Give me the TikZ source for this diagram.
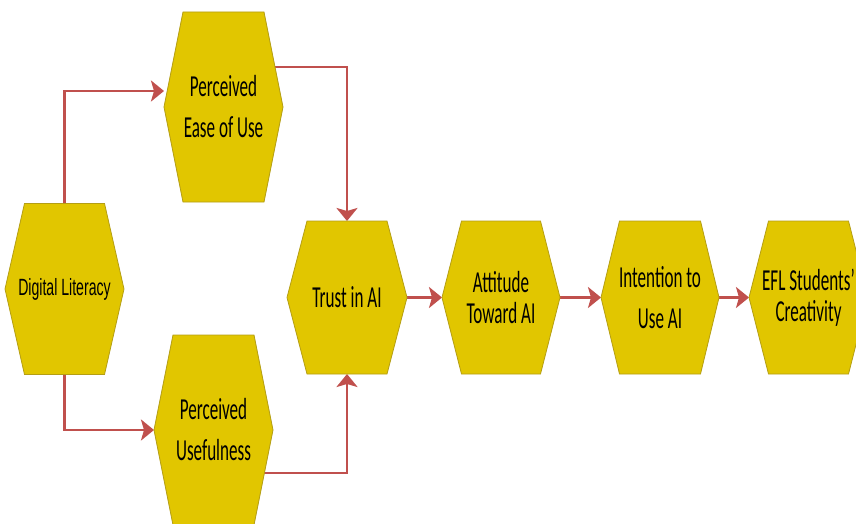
\documentclass[tikz,border=0pt]{standalone}
\usepackage{fontspec}
\setmainfont{Carlito}[FakeStretch=0.56]
\newfontfamily\narrowsans{Liberation Sans}[FakeStretch=0.6]
\usetikzlibrary{arrows.meta,backgrounds}

\definecolor{hexgold}{RGB}{225,198,0}
\definecolor{hexedge}{RGB}{180,158,20}
\definecolor{linkred}{RGB}{192,80,77}

\tikzset{
  hexbox/.style={inner sep=0pt, outer sep=0pt, align=center,
    font=\fontsize{30.5}{41}\selectfont},
  tightlines/.style={font=\fontsize{30.5}{31}\selectfont},
  hexfill/.style={fill=hexgold, draw=hexedge, line width=0.8pt, line join=miter},
  link/.style={draw=linkred, line width=2.6pt,
    -{Stealth[length=13pt,width=21pt,inset=3pt]}}
}

% hexagon outline round a node: #1 node name, #2 horizontal inset of the top/bottom edges
\newcommand\hexround[2]{%
  \path[hexfill] ([xshift=#2]#1.north west) -- ([xshift=-#2]#1.north east)
    -- (#1.east) -- ([xshift=-#2]#1.south east) -- ([xshift=#2]#1.south west)
    -- (#1.west) -- cycle;}

\begin{document}
\begin{tikzpicture}[x=1pt,y=-1pt]
\useasboundingbox (0,0) rectangle (856,524);
\clip (0,0) rectangle (856,524);

% labels
\node[hexbox, minimum width=119pt, minimum height=171pt,
      font=\narrowsans\fontsize{23.5}{28}\selectfont] (dl) at (64.5,289) {Digital Literacy};
\node[hexbox, minimum width=119pt, minimum height=190pt] (peu) at (223.5,107) {Perceived\\Ease of Use};
\node[hexbox, minimum width=119pt, minimum height=190pt] (pu) at (213.5,430) {Perceived\\Usefulness};
\node[hexbox, minimum width=120pt, minimum height=153pt] (trust) at (347,297.5) {Trust in AI};
\node[hexbox, tightlines, minimum width=118pt, minimum height=153pt] (att) at (501,297.5) {Attitude\\Toward AI};
\node[hexbox, minimum width=118pt, minimum height=153pt] (int) at (660,297.5) {Intention to\\Use AI};
\node[hexbox, tightlines, minimum width=119pt, minimum height=153pt] (efl) at (808.5,297.5) {EFL Students'\\Creativity};

\begin{pgfonlayer}{background}
  % connectors, partly hidden under the hexagons
  \draw[link] (dl.north) |- ([yshift=16pt]peu.west);
  \draw[link] (dl.south) |- (pu.west);
  \draw[link] ([yshift=40pt]peu.center) -| (trust.north);
  \draw[link] ([yshift=-43pt]pu.center) -| (trust.south);
  \draw[link] (trust.east) -- (att.west);
  \draw[link] (att.east) -- (int.west);
  \draw[link] (int.east) -- (efl.west);
  % hexagons
  \hexround{dl}{19.5pt}
  \hexround{peu}{19pt}
  \hexround{pu}{19pt}
  \hexround{trust}{20pt}
  \hexround{att}{19.5pt}
  \hexround{int}{18.5pt}
  \hexround{efl}{19.5pt}
\end{pgfonlayer}
\end{tikzpicture}
\end{document}
